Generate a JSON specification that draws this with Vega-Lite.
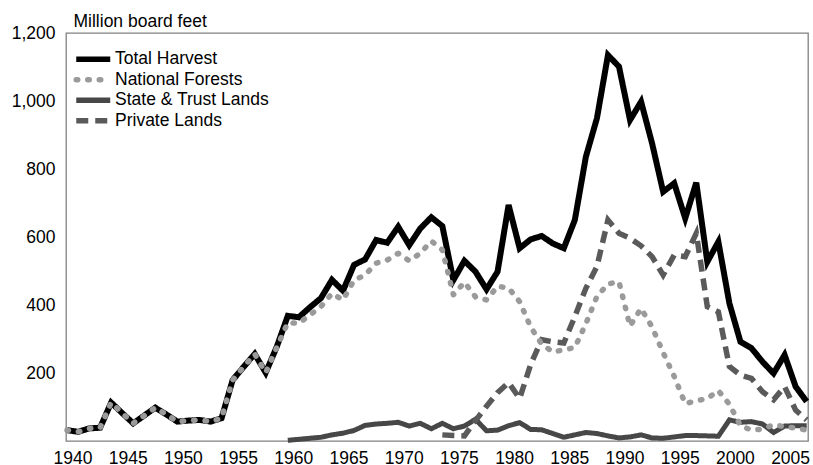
{
  "$schema": "https://vega.github.io/schema/vega-lite/v6.json",
  "width": 742,
  "height": 408,
  "autosize": {"type": "none"},
  "padding": {"left": 66, "top": 33, "right": 5, "bottom": 24},
  "background": "white",
  "config": {
    "font": "Liberation Sans",
    "view": {"stroke": "#808080", "strokeWidth": 1.3},
    "axis": {"grid": false, "ticks": false, "domain": false, "labelFont": "Liberation Sans", "labelFontSize": 17.5, "labelColor": "#000000"},
    "legend": {"padding": 0, "labelFont": "Liberation Sans", "labelFontSize": 17.5, "labelColor": "#000000", "labelLimit": 300}
  },
  "data": {"values": [
    {"year": 1940, "series": "Total Harvest", "value": 32},
    {"year": 1941, "series": "Total Harvest", "value": 27},
    {"year": 1942, "series": "Total Harvest", "value": 37},
    {"year": 1943, "series": "Total Harvest", "value": 39},
    {"year": 1944, "series": "Total Harvest", "value": 113},
    {"year": 1945, "series": "Total Harvest", "value": 82},
    {"year": 1946, "series": "Total Harvest", "value": 52},
    {"year": 1947, "series": "Total Harvest", "value": 75},
    {"year": 1948, "series": "Total Harvest", "value": 98},
    {"year": 1949, "series": "Total Harvest", "value": 78},
    {"year": 1950, "series": "Total Harvest", "value": 57},
    {"year": 1951, "series": "Total Harvest", "value": 60},
    {"year": 1952, "series": "Total Harvest", "value": 62},
    {"year": 1953, "series": "Total Harvest", "value": 57},
    {"year": 1954, "series": "Total Harvest", "value": 67},
    {"year": 1955, "series": "Total Harvest", "value": 179},
    {"year": 1956, "series": "Total Harvest", "value": 218},
    {"year": 1957, "series": "Total Harvest", "value": 256},
    {"year": 1958, "series": "Total Harvest", "value": 201},
    {"year": 1959, "series": "Total Harvest", "value": 277},
    {"year": 1960, "series": "Total Harvest", "value": 368},
    {"year": 1961, "series": "Total Harvest", "value": 364},
    {"year": 1962, "series": "Total Harvest", "value": 393},
    {"year": 1963, "series": "Total Harvest", "value": 420},
    {"year": 1964, "series": "Total Harvest", "value": 474},
    {"year": 1965, "series": "Total Harvest", "value": 442},
    {"year": 1966, "series": "Total Harvest", "value": 518},
    {"year": 1967, "series": "Total Harvest", "value": 534},
    {"year": 1968, "series": "Total Harvest", "value": 591},
    {"year": 1969, "series": "Total Harvest", "value": 583},
    {"year": 1970, "series": "Total Harvest", "value": 630},
    {"year": 1971, "series": "Total Harvest", "value": 576},
    {"year": 1972, "series": "Total Harvest", "value": 625},
    {"year": 1973, "series": "Total Harvest", "value": 658},
    {"year": 1974, "series": "Total Harvest", "value": 632},
    {"year": 1975, "series": "Total Harvest", "value": 473},
    {"year": 1976, "series": "Total Harvest", "value": 530},
    {"year": 1977, "series": "Total Harvest", "value": 498},
    {"year": 1978, "series": "Total Harvest", "value": 446},
    {"year": 1979, "series": "Total Harvest", "value": 498},
    {"year": 1980, "series": "Total Harvest", "value": 694},
    {"year": 1981, "series": "Total Harvest", "value": 567},
    {"year": 1982, "series": "Total Harvest", "value": 593},
    {"year": 1983, "series": "Total Harvest", "value": 603},
    {"year": 1984, "series": "Total Harvest", "value": 581},
    {"year": 1985, "series": "Total Harvest", "value": 567},
    {"year": 1986, "series": "Total Harvest", "value": 650},
    {"year": 1987, "series": "Total Harvest", "value": 836},
    {"year": 1988, "series": "Total Harvest", "value": 949},
    {"year": 1989, "series": "Total Harvest", "value": 1135},
    {"year": 1990, "series": "Total Harvest", "value": 1101},
    {"year": 1991, "series": "Total Harvest", "value": 944},
    {"year": 1992, "series": "Total Harvest", "value": 998},
    {"year": 1993, "series": "Total Harvest", "value": 875},
    {"year": 1994, "series": "Total Harvest", "value": 733},
    {"year": 1995, "series": "Total Harvest", "value": 758},
    {"year": 1996, "series": "Total Harvest", "value": 655},
    {"year": 1997, "series": "Total Harvest", "value": 760},
    {"year": 1998, "series": "Total Harvest", "value": 527},
    {"year": 1999, "series": "Total Harvest", "value": 586},
    {"year": 2000, "series": "Total Harvest", "value": 405},
    {"year": 2001, "series": "Total Harvest", "value": 292},
    {"year": 2002, "series": "Total Harvest", "value": 273},
    {"year": 2003, "series": "Total Harvest", "value": 233},
    {"year": 2004, "series": "Total Harvest", "value": 199},
    {"year": 2005, "series": "Total Harvest", "value": 253},
    {"year": 2006, "series": "Total Harvest", "value": 160},
    {"year": 2007, "series": "Total Harvest", "value": 116},
    {"year": 1940, "series": "National Forests", "value": 32},
    {"year": 1941, "series": "National Forests", "value": 27},
    {"year": 1942, "series": "National Forests", "value": 37},
    {"year": 1943, "series": "National Forests", "value": 39},
    {"year": 1944, "series": "National Forests", "value": 113},
    {"year": 1945, "series": "National Forests", "value": 82},
    {"year": 1946, "series": "National Forests", "value": 52},
    {"year": 1947, "series": "National Forests", "value": 75},
    {"year": 1948, "series": "National Forests", "value": 98},
    {"year": 1949, "series": "National Forests", "value": 78},
    {"year": 1950, "series": "National Forests", "value": 57},
    {"year": 1951, "series": "National Forests", "value": 60},
    {"year": 1952, "series": "National Forests", "value": 62},
    {"year": 1953, "series": "National Forests", "value": 57},
    {"year": 1954, "series": "National Forests", "value": 67},
    {"year": 1955, "series": "National Forests", "value": 179},
    {"year": 1956, "series": "National Forests", "value": 218},
    {"year": 1957, "series": "National Forests", "value": 256},
    {"year": 1958, "series": "National Forests", "value": 201},
    {"year": 1959, "series": "National Forests", "value": 275},
    {"year": 1960, "series": "National Forests", "value": 348},
    {"year": 1961, "series": "National Forests", "value": 346},
    {"year": 1962, "series": "National Forests", "value": 371},
    {"year": 1963, "series": "National Forests", "value": 395},
    {"year": 1964, "series": "National Forests", "value": 434},
    {"year": 1965, "series": "National Forests", "value": 415},
    {"year": 1966, "series": "National Forests", "value": 473},
    {"year": 1967, "series": "National Forests", "value": 488},
    {"year": 1968, "series": "National Forests", "value": 523},
    {"year": 1969, "series": "National Forests", "value": 532},
    {"year": 1970, "series": "National Forests", "value": 552},
    {"year": 1971, "series": "National Forests", "value": 530},
    {"year": 1972, "series": "National Forests", "value": 552},
    {"year": 1973, "series": "National Forests", "value": 588},
    {"year": 1974, "series": "National Forests", "value": 562},
    {"year": 1975, "series": "National Forests", "value": 430},
    {"year": 1976, "series": "National Forests", "value": 467},
    {"year": 1977, "series": "National Forests", "value": 424},
    {"year": 1978, "series": "National Forests", "value": 415},
    {"year": 1979, "series": "National Forests", "value": 455},
    {"year": 1980, "series": "National Forests", "value": 450},
    {"year": 1981, "series": "National Forests", "value": 410},
    {"year": 1982, "series": "National Forests", "value": 335},
    {"year": 1983, "series": "National Forests", "value": 285},
    {"year": 1984, "series": "National Forests", "value": 262},
    {"year": 1985, "series": "National Forests", "value": 268},
    {"year": 1986, "series": "National Forests", "value": 275},
    {"year": 1987, "series": "National Forests", "value": 345},
    {"year": 1988, "series": "National Forests", "value": 425},
    {"year": 1989, "series": "National Forests", "value": 462},
    {"year": 1990, "series": "National Forests", "value": 468},
    {"year": 1991, "series": "National Forests", "value": 338},
    {"year": 1992, "series": "National Forests", "value": 390},
    {"year": 1993, "series": "National Forests", "value": 335},
    {"year": 1994, "series": "National Forests", "value": 260},
    {"year": 1995, "series": "National Forests", "value": 190},
    {"year": 1996, "series": "National Forests", "value": 110},
    {"year": 1997, "series": "National Forests", "value": 118},
    {"year": 1998, "series": "National Forests", "value": 125},
    {"year": 1999, "series": "National Forests", "value": 148},
    {"year": 2000, "series": "National Forests", "value": 108},
    {"year": 2001, "series": "National Forests", "value": 45},
    {"year": 2002, "series": "National Forests", "value": 32},
    {"year": 2003, "series": "National Forests", "value": 35},
    {"year": 2004, "series": "National Forests", "value": 48},
    {"year": 2005, "series": "National Forests", "value": 42},
    {"year": 2006, "series": "National Forests", "value": 38},
    {"year": 2007, "series": "National Forests", "value": 32},
    {"year": 1960, "series": "State & Trust Lands", "value": 2},
    {"year": 1961, "series": "State & Trust Lands", "value": 5},
    {"year": 1962, "series": "State & Trust Lands", "value": 8},
    {"year": 1963, "series": "State & Trust Lands", "value": 11},
    {"year": 1964, "series": "State & Trust Lands", "value": 18},
    {"year": 1965, "series": "State & Trust Lands", "value": 23},
    {"year": 1966, "series": "State & Trust Lands", "value": 31},
    {"year": 1967, "series": "State & Trust Lands", "value": 46},
    {"year": 1968, "series": "State & Trust Lands", "value": 50},
    {"year": 1969, "series": "State & Trust Lands", "value": 52},
    {"year": 1970, "series": "State & Trust Lands", "value": 55},
    {"year": 1971, "series": "State & Trust Lands", "value": 44},
    {"year": 1972, "series": "State & Trust Lands", "value": 52},
    {"year": 1973, "series": "State & Trust Lands", "value": 36},
    {"year": 1974, "series": "State & Trust Lands", "value": 52},
    {"year": 1975, "series": "State & Trust Lands", "value": 36},
    {"year": 1976, "series": "State & Trust Lands", "value": 44},
    {"year": 1977, "series": "State & Trust Lands", "value": 64},
    {"year": 1978, "series": "State & Trust Lands", "value": 30},
    {"year": 1979, "series": "State & Trust Lands", "value": 32},
    {"year": 1980, "series": "State & Trust Lands", "value": 45},
    {"year": 1981, "series": "State & Trust Lands", "value": 54},
    {"year": 1982, "series": "State & Trust Lands", "value": 34},
    {"year": 1983, "series": "State & Trust Lands", "value": 33},
    {"year": 1984, "series": "State & Trust Lands", "value": 22},
    {"year": 1985, "series": "State & Trust Lands", "value": 11},
    {"year": 1986, "series": "State & Trust Lands", "value": 18},
    {"year": 1987, "series": "State & Trust Lands", "value": 25},
    {"year": 1988, "series": "State & Trust Lands", "value": 22},
    {"year": 1989, "series": "State & Trust Lands", "value": 15},
    {"year": 1990, "series": "State & Trust Lands", "value": 9},
    {"year": 1991, "series": "State & Trust Lands", "value": 12},
    {"year": 1992, "series": "State & Trust Lands", "value": 18},
    {"year": 1993, "series": "State & Trust Lands", "value": 9},
    {"year": 1994, "series": "State & Trust Lands", "value": 8},
    {"year": 1995, "series": "State & Trust Lands", "value": 12},
    {"year": 1996, "series": "State & Trust Lands", "value": 16},
    {"year": 1997, "series": "State & Trust Lands", "value": 16},
    {"year": 1998, "series": "State & Trust Lands", "value": 15},
    {"year": 1999, "series": "State & Trust Lands", "value": 14},
    {"year": 2000, "series": "State & Trust Lands", "value": 62},
    {"year": 2001, "series": "State & Trust Lands", "value": 55},
    {"year": 2002, "series": "State & Trust Lands", "value": 57},
    {"year": 2003, "series": "State & Trust Lands", "value": 50},
    {"year": 2004, "series": "State & Trust Lands", "value": 25},
    {"year": 2005, "series": "State & Trust Lands", "value": 44},
    {"year": 2006, "series": "State & Trust Lands", "value": 45},
    {"year": 2007, "series": "State & Trust Lands", "value": 45},
    {"year": 1974, "series": "Private Lands", "value": 18},
    {"year": 1975, "series": "Private Lands", "value": 16},
    {"year": 1976, "series": "Private Lands", "value": 15},
    {"year": 1977, "series": "Private Lands", "value": 60},
    {"year": 1978, "series": "Private Lands", "value": 102},
    {"year": 1979, "series": "Private Lands", "value": 142},
    {"year": 1980, "series": "Private Lands", "value": 172},
    {"year": 1981, "series": "Private Lands", "value": 125},
    {"year": 1982, "series": "Private Lands", "value": 225},
    {"year": 1983, "series": "Private Lands", "value": 298},
    {"year": 1984, "series": "Private Lands", "value": 292},
    {"year": 1985, "series": "Private Lands", "value": 288},
    {"year": 1986, "series": "Private Lands", "value": 366},
    {"year": 1987, "series": "Private Lands", "value": 449},
    {"year": 1988, "series": "Private Lands", "value": 513},
    {"year": 1989, "series": "Private Lands", "value": 650},
    {"year": 1990, "series": "Private Lands", "value": 611},
    {"year": 1991, "series": "Private Lands", "value": 596},
    {"year": 1992, "series": "Private Lands", "value": 574},
    {"year": 1993, "series": "Private Lands", "value": 542},
    {"year": 1994, "series": "Private Lands", "value": 488},
    {"year": 1995, "series": "Private Lands", "value": 547},
    {"year": 1996, "series": "Private Lands", "value": 542},
    {"year": 1997, "series": "Private Lands", "value": 611},
    {"year": 1998, "series": "Private Lands", "value": 395},
    {"year": 1999, "series": "Private Lands", "value": 380},
    {"year": 2000, "series": "Private Lands", "value": 219},
    {"year": 2001, "series": "Private Lands", "value": 194},
    {"year": 2002, "series": "Private Lands", "value": 184},
    {"year": 2003, "series": "Private Lands", "value": 145},
    {"year": 2004, "series": "Private Lands", "value": 121},
    {"year": 2005, "series": "Private Lands", "value": 160},
    {"year": 2006, "series": "Private Lands", "value": 91},
    {"year": 2007, "series": "Private Lands", "value": 62}
  ]},
  "encoding": {
    "x": {
      "field": "year", "type": "quantitative",
      "scale": {"domain": [1939.91, 2007.12], "nice": false, "zero": false},
      "axis": {"values": [1940, 1945, 1950, 1955, 1960, 1965, 1970, 1975, 1980, 1985, 1990, 1995, 2000, 2005], "format": "d", "labelOffset": 5.5, "labelPadding": 8, "labelFlush": false, "labelOverlap": false, "title": null}
    },
    "y": {
      "field": "value", "type": "quantitative",
      "scale": {"domain": [0, 1200], "nice": false},
      "axis": {"values": [200, 400, 600, 800, 1000, 1200], "format": ",d", "labelPadding": 11, "labelFlush": false, "title": "Million board feet", "titleAngle": 0, "titleAlign": "left", "titleBaseline": "alphabetic", "titleX": 7, "titleY": -7, "titleFont": "Liberation Sans", "titleFontSize": 17.5, "titleFontWeight": "normal", "titleColor": "#000000"}
    },
    "color": {
      "field": "series", "type": "nominal",
      "scale": {"domain": ["Total Harvest", "National Forests", "State & Trust Lands", "Private Lands"], "range": ["#000000", "#9a9a9a", "#474747", "#5a5a5a"]},
      "legend": {"title": null, "orient": "none", "legendX": 10, "legendY": 17.5, "symbolType": "M-3,0H3", "symbolSize": 128.4, "symbolStrokeWidth": 5.5, "symbolOffset": 8.5, "labelOffset": 13, "rowPadding": -2.5,
        "encode": {"symbols": {"update": {"strokeCap": {"signal": "datum.value === 'National Forests' ? 'round' : 'butt'"}}}}}
    },
    "strokeDash": {
      "field": "series", "type": "nominal",
      "scale": {"domain": ["Total Harvest", "National Forests", "State & Trust Lands", "Private Lands"], "range": [[1, 0], [1.5, 10], [1, 0], [12, 7]]},
      "legend": {"title": null, "orient": "none", "legendX": 10, "legendY": 17.5, "symbolType": "M-3,0H3", "symbolSize": 128.4, "symbolStrokeWidth": 5.5, "symbolOffset": 8.5, "labelOffset": 13, "rowPadding": -2.5,
        "encode": {"symbols": {"update": {"strokeCap": {"signal": "datum.value === 'National Forests' ? 'round' : 'butt'"}}}}}
    }
  },
  "layer": [
    {"transform": [{"filter": "datum.series === 'Total Harvest'"}], "mark": {"type": "line", "strokeWidth": 6, "strokeCap": "butt", "strokeJoin": "miter"}},
    {"transform": [{"filter": "datum.series === 'State & Trust Lands'"}], "mark": {"type": "line", "strokeWidth": 5, "strokeCap": "butt", "strokeJoin": "miter"}},
    {"transform": [{"filter": "datum.series === 'Private Lands'"}], "mark": {"type": "line", "strokeWidth": 5.5, "strokeCap": "butt", "strokeJoin": "miter"}},
    {"transform": [{"filter": "datum.series === 'National Forests'"}], "mark": {"type": "line", "strokeWidth": 5.5, "strokeCap": "round", "strokeJoin": "round"}}
  ]
}
